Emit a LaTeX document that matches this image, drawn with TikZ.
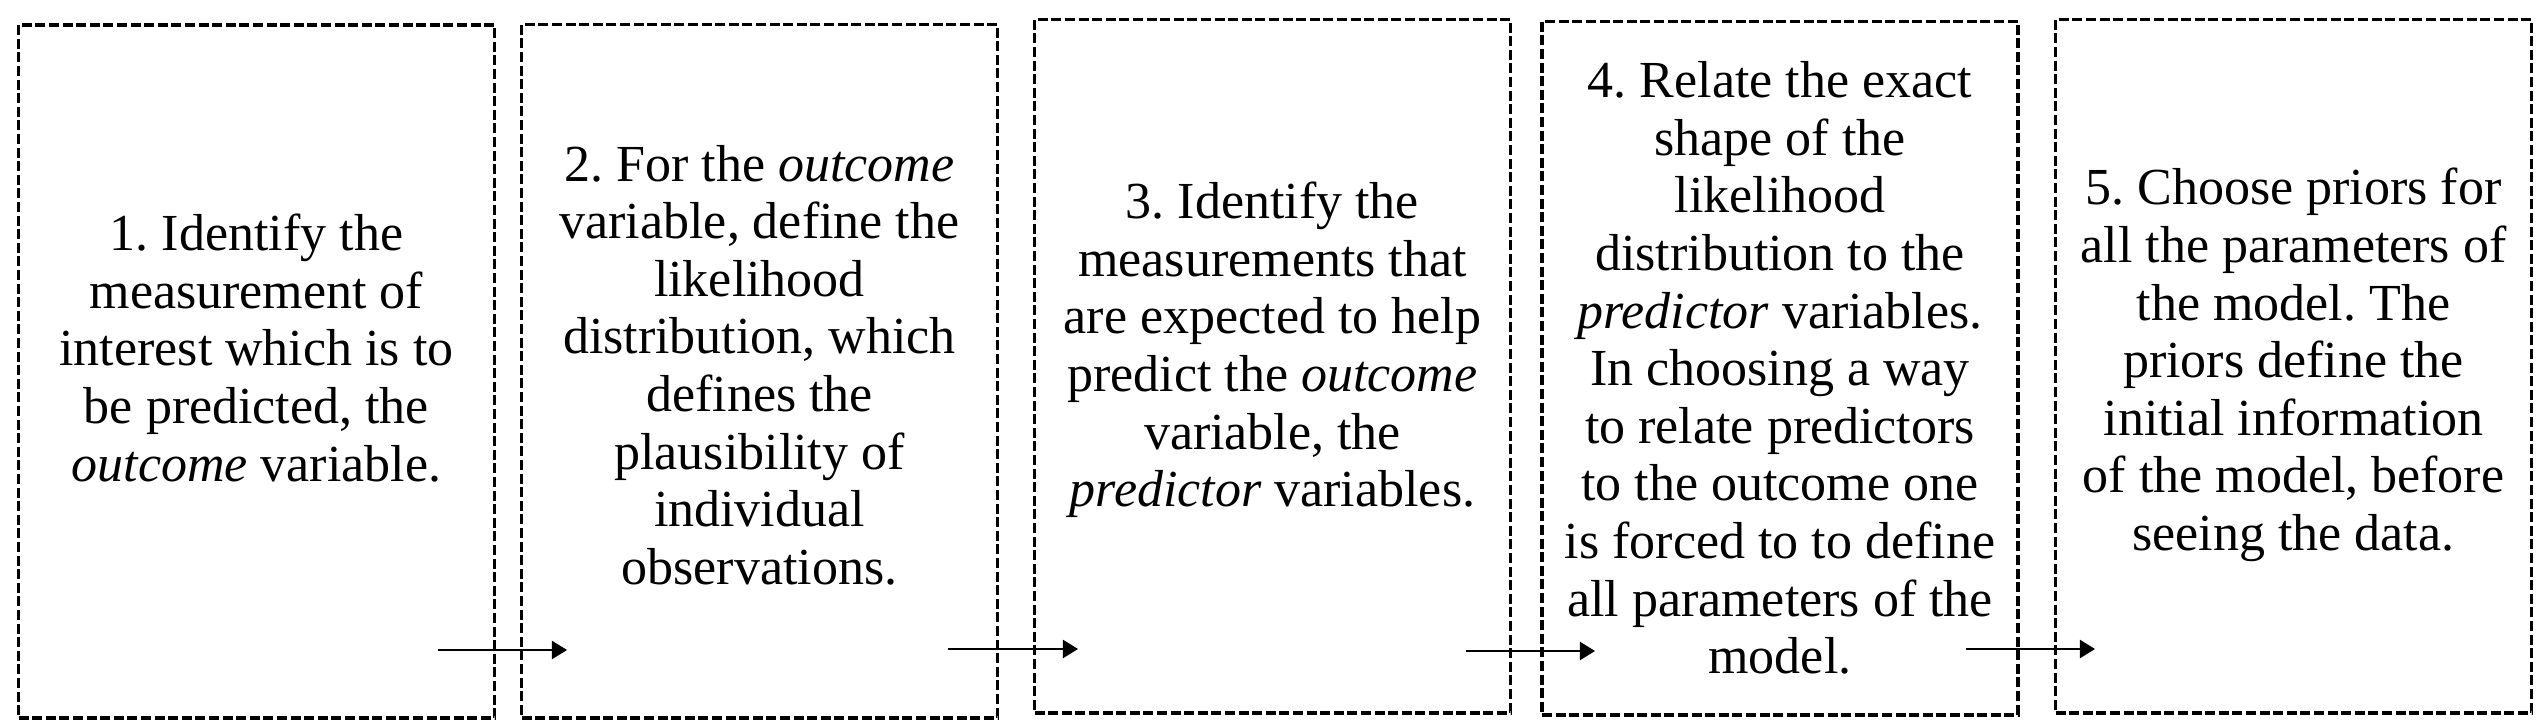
\documentclass[tikz,border=0pt]{standalone}
\usepackage{fontspec}
\setmainfont{Liberation Serif}
\usetikzlibrary{arrows.meta}
\begin{document}
\frenchspacing
\begin{tikzpicture}[x=0.25pt,y=-0.25pt,
  stepbox/.style={draw,dash pattern=on 2.5pt off 0.9pt,line width=0.95pt,
    minimum width=119pt,minimum height=173.3pt,inner sep=0pt},
  txt/.style={align=center,inner sep=0pt,font=\fontsize{13}{14.4}\selectfont},
  conn/.style={line width=0.35pt,-{Triangle[length=3.8pt,width=4.6pt]}}]
\fill[white] (0,0) rectangle (2542,728);
\useasboundingbox (0,0) rectangle (2542,728);
% boxes
\node[stepbox] (b1) at (256.5,371.5) {};
\node[stepbox] (b2) at (759.5,371) {};
\node[stepbox] (b3) at (1272.5,366) {};
\node[stepbox] (b4) at (1780,368) {};
\node[stepbox] (b5) at (2293.5,366) {};
% texts
\node[txt] (t1) at (256.5,348) {1. Identify the\\ measurement of\\ interest which is to\\ be predicted, the\\ \textit{outcome} variable.};
\node[txt] (t2) at (759.5,365) {2. For the \textit{outcome}\\ variable, define the\\ likelihood\\ distribution, which\\ defines the\\ plausibility of\\ individual\\ observations.};
\node[txt] (t3) at (1272.5,350) {3. Identify the\\ measurements that\\ are expected to help\\ predict the \textit{outcome}\\ variable, the\\ \textit{predictor} variables.};
\node[txt] (t4) at (1780,368) {4. Relate the exact\\ shape of the\\ likelihood\\ distribution to the\\ \textit{predictor} variables.\\ In choosing a way\\ to relate predictors\\ to the outcome one\\ is forced to to define\\ all parameters of the\\ model.};
\node[txt] (t5) at (2293.5,365) {5. Choose priors for\\ all the parameters of\\ the model. The\\ priors define the\\ initial information\\ of the model, before\\ seeing the data.};
% connectors
\coordinate (a1s) at (438,650);  \coordinate (a1e) at (567,650);
\coordinate (a2s) at (948,649);  \coordinate (a2e) at (1078,649);
\coordinate (a3s) at (1466,651); \coordinate (a3e) at (1595,651);
\coordinate (a4s) at (1966,649); \coordinate (a4e) at (2095,649);
\draw[conn] (a1s) -- (a1e);
\draw[conn] (a2s) -- (a2e);
\draw[conn] (a3s) -- (a3e);
\draw[conn] (a4s) -- (a4e);
\end{tikzpicture}
\end{document}
